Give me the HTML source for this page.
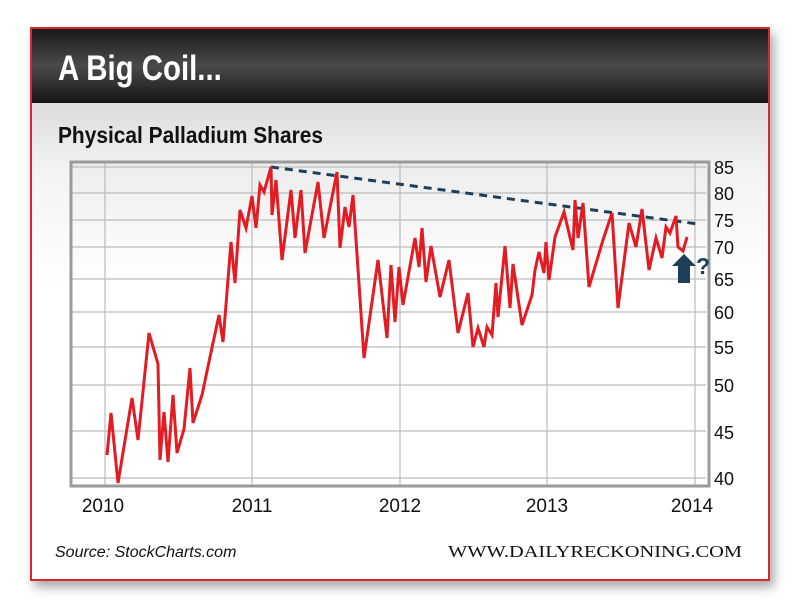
<!DOCTYPE html>
<html><head><style>
body{margin:0;width:800px;height:611px;background:#fff;overflow:hidden;font-family:"Liberation Sans",sans-serif}
#frame{position:absolute;left:30px;top:27px;width:736px;height:550px;border:2px solid #d42a2f;box-shadow:4px 6px 10px rgba(0,0,0,.35);background:linear-gradient(#dcdcdc 75px,#f3f3f3 140px,#fff 260px)}
#hdr{position:absolute;left:0;top:0;width:736px;height:74px;background:linear-gradient(#1a1a1a,#4a4a4b 50%,#151515)}
</style></head><body>
<div id="frame"><div id="hdr"></div></div>
<svg width="800" height="611" style="position:absolute;left:0;top:0">
<defs><linearGradient id="pg" x1="0" y1="0" x2="0" y2="1"><stop offset="0" stop-color="#ececec"/><stop offset="0.35" stop-color="#fff"/></linearGradient></defs>
<text x="58" y="80" fill="#fff" font-size="35" font-weight="bold" transform="translate(58 0) scale(0.84 1) translate(-58 0)">A Big Coil...</text>
<text x="58" y="143" fill="#111" font-size="23" font-weight="bold" transform="translate(58 0) scale(0.91 1) translate(-58 0)">Physical Palladium Shares</text>
<rect x="71" y="162" width="638" height="324" fill="url(#pg)"/>
<g stroke="#bbb" stroke-width="1.2">
<line x1="71" x2="706" y1="478" y2="478"/><line x1="71" x2="706" y1="431" y2="431"/><line x1="71" x2="706" y1="385" y2="385"/><line x1="71" x2="706" y1="347" y2="347"/><line x1="71" x2="706" y1="312" y2="312"/><line x1="71" x2="706" y1="279" y2="279"/><line x1="71" x2="706" y1="247" y2="247"/><line x1="71" x2="706" y1="220" y2="220"/><line x1="71" x2="706" y1="193" y2="193"/><line x1="71" x2="706" y1="167" y2="167"/>
<line x1="105" x2="105" y1="162" y2="486"/><line x1="252" x2="252" y1="162" y2="486"/><line x1="400" x2="400" y1="162" y2="486"/><line x1="547" x2="547" y1="162" y2="486"/><line x1="695" x2="695" y1="162" y2="486"/>
</g>
<rect x="71" y="162" width="638" height="324" fill="none" stroke="#9a9a9a" stroke-width="3"/>
<line x1="271" y1="167" x2="698" y2="224" stroke="#1c3f5a" stroke-width="3" stroke-dasharray="8,6"/>
<polyline fill="none" stroke="#e31b23" stroke-width="3" stroke-linejoin="miter" points="107,455 111,413 118,483 132,398 138,440 149,333 158,364 160,460 164,412 168,462 173,395 177,453 184,429 190,368 193,423 202,395 210,357 219,315 223,342 231,242 235,283 240,210 246,228 252,196 256,228 260,185 264,192 271,167 272,215 276,180 282,260 291,190 295,238 301,190 305,253 318,182 324,238 337,172 340,248 345,207 349,227 353,195 364,358 378,260 387,338 391,265 395,322 399,267 403,305 415,238 419,267 422,228 426,282 431,246 440,297 449,260 458,333 468,293 473,347 478,328 484,347 487,327 492,335 496,283 498,317 505,246 510,308 513,264 522,325 532,295 535,270 539,252 544,273 546,242 549,280 555,237 564,212 573,250 575,200 578,238 583,203 589,287 603,240 612,213 618,308 629,223 636,247 642,209 649,270 656,238 662,258 666,227 670,233 676,216 678,247 683,251 687,237"/>
<polygon points="684,254 696,266 690,266 690,283 678,283 678,266 672,266" fill="#1c3f5a"/>
<text x="696" y="274" font-size="23" font-weight="bold" fill="#1c3f5a">?</text>
<g font-size="18" fill="#111">
<text x="714" y="174">85</text><text x="714" y="200">80</text><text x="714" y="227">75</text><text x="714" y="254">70</text><text x="714" y="286">65</text><text x="714" y="319">60</text><text x="714" y="354">55</text><text x="714" y="392">50</text><text x="714" y="439">45</text><text x="714" y="485">40</text>
</g>
<g font-size="19" fill="#111" text-anchor="middle">
<text x="103" y="512">2010</text><text x="252" y="512">2011</text><text x="400" y="512">2012</text><text x="547" y="512">2013</text><text x="692" y="512">2014</text>
</g>
<text x="55" y="557" font-size="16" font-style="italic" fill="#111">Source: StockCharts.com</text>
<text x="448" y="557" font-size="17" fill="#111" font-family="Liberation Serif,serif" textLength="294" lengthAdjust="spacingAndGlyphs">WWW.DAILYRECKONING.COM</text>
</svg>
</body></html>
